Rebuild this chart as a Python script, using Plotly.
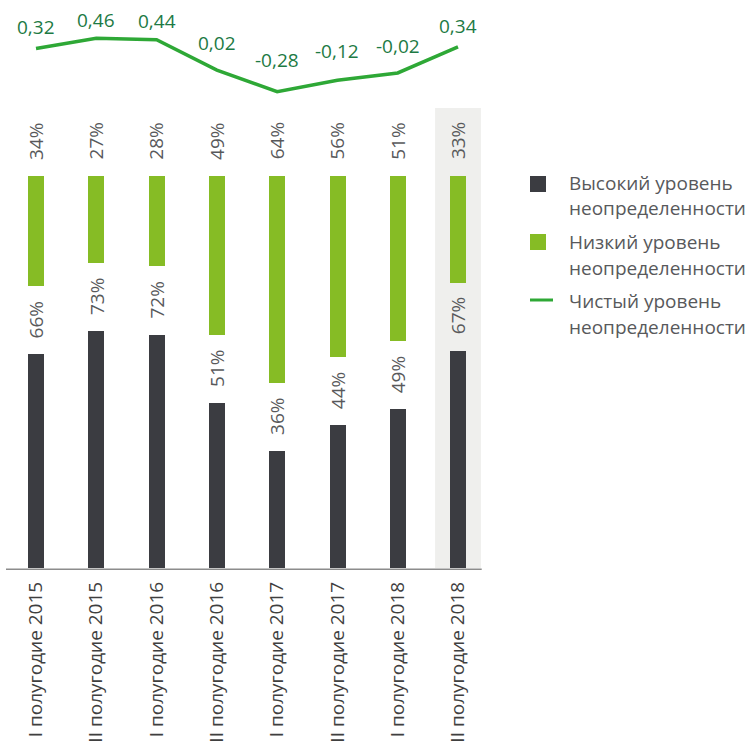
import plotly.graph_objects as go

# ---- data -------------------------------------------------------------
periods = [
    "I полугодие 2015", "II полугодие 2015",
    "I полугодие 2016", "II полугодие 2016",
    "I полугодие 2017", "II полугодие 2017",
    "I полугодие 2018", "II полугодие 2018",
]
high_share = [66, 73, 72, 51, 36, 44, 49, 67]      # высокий уровень, %
low_share = [34, 27, 28, 49, 64, 56, 51, 33]       # низкий уровень, %
net_level = [0.32, 0.46, 0.44, 0.02, -0.28, -0.12, -0.02, 0.34]

legend_lines = [
    ["Высокий уровень", "неопределенности"],
    ["Низкий уровень", "неопределенности"],
    ["Чистый уровень", "неопределенности"],
]

# ---- styling / geometry ----------------------------------------------
W, H = 749, 743
FONT = "Open Sans"
FS = 19
DARK = "#3b3c41"
LIME = "#86bc25"
LINE = "#2ea836"
NET_TEXT = "#1d7a44"
GREY_TEXT = "#58595b"
AXIS_TEXT = "#3f3f3f"
HILITE = "#efefed"

BASE_PX = 568          # zero of the bar axis (pixels from top)
PX_PER_PCT = 3.243
BAR_TOP_PX = 100
LOW_TOP = 121          # green bars hang down from this level
NET_ZERO_PX = 71.5
NET_PX_PER_UNIT = 72.2
NET_BOTTOM_PX = 100


def fx(px):
    return px / W


def fy(py):
    return 1 - py / H


bar_range = [0, (BASE_PX - BAR_TOP_PX) / PX_PER_PCT]
net_range = [-(NET_BOTTOM_PX - NET_ZERO_PX) / NET_PX_PER_UNIT, NET_ZERO_PX / NET_PX_PER_UNIT]

fig = go.Figure()

fig.add_trace(go.Bar(
    x=periods, y=high_share, width=0.265,
    marker=dict(color=DARK, line=dict(width=0)),
    name="Высокий уровень неопределенности", showlegend=False,
))
fig.add_trace(go.Bar(
    x=periods, y=low_share, base=[LOW_TOP - v for v in low_share], width=0.265,
    marker=dict(color=LIME, line=dict(width=0)),
    name="Низкий уровень неопределенности", showlegend=False,
))
fig.add_trace(go.Scatter(
    x=periods, y=net_level, yaxis="y2", mode="lines",
    line=dict(color=LINE, width=3.5),
    name="Чистый уровень неопределенности", showlegend=False,
))

annotations = []

# rotated percentage labels above both bar groups
for p, hv, lv in zip(periods, high_share, low_share):
    for yv, txt in ((hv, f"{hv}%"), (LOW_TOP, f"{lv}%")):
        annotations.append(dict(
            x=p, y=yv, xref="x", yref="y", text=txt, textangle=-90,
            showarrow=False, xanchor="center", yanchor="bottom", yshift=14,
            font=dict(family=FONT, size=FS, color=GREY_TEXT),
        ))

# net level labels (low points get a slightly larger lift)
for p, v in zip(periods, net_level):
    annotations.append(dict(
        x=p, y=v, xref="x", yref="y2", text=f"{v:.2f}".replace(".", ","),
        showarrow=False, xanchor="center", yanchor="bottom",
        yshift=12 - 18 * v,
        font=dict(family=FONT, size=FS, color=NET_TEXT),
    ))

# legend text
legend_baselines = [(190.7, 215.5), (249.5, 275), (308.5, 334)]
for lines, bases in zip(legend_lines, legend_baselines):
    for txt, b in zip(lines, bases):
        annotations.append(dict(
            x=fx(567), y=fy(b - 7.3), xref="paper", yref="paper", text=txt,
            showarrow=False, xanchor="left", yanchor="middle",
            font=dict(family=FONT, size=FS, color=GREY_TEXT),
        ))

shapes = [
    # highlighted last half-year
    dict(type="rect", xref="x", yref="y", x0=7 - 0.38, x1=7 + 0.38,
         y0=0, y1=(BASE_PX - 108) / PX_PER_PCT,
         fillcolor=HILITE, line=dict(width=0), layer="below"),
    # baseline
    dict(type="line", xref="paper", yref="paper", x0=fx(6), x1=fx(481.7),
         y0=fy(569.2), y1=fy(569.2), line=dict(color="#8c8c8c", width=1.5)),
    # legend keys
    dict(type="rect", xref="paper", yref="paper", x0=fx(530), x1=fx(546),
         y0=fy(192), y1=fy(176), fillcolor=DARK, line=dict(width=0)),
    dict(type="rect", xref="paper", yref="paper", x0=fx(530), x1=fx(546),
         y0=fy(250), y1=fy(234), fillcolor=LIME, line=dict(width=0)),
    dict(type="line", xref="paper", yref="paper", x0=fx(530), x1=fx(553),
         y0=fy(300), y1=fy(300), line=dict(color=LINE, width=3)),
]

x_left = 36 - 60.29 / 2
x_right = 458 + 60.29 / 2

fig.update_layout(
    width=W, height=H, autosize=False,
    margin=dict(l=0, r=0, t=0, b=0, autoexpand=False),
    paper_bgcolor="white", plot_bgcolor="rgba(0,0,0,0)",
    barmode="overlay", bargap=0,
    font=dict(family=FONT, size=FS, color=GREY_TEXT),
    xaxis=dict(
        domain=[fx(x_left), fx(x_right)], range=[-0.5, 7.5],
        type="category", showgrid=False, zeroline=False, showline=False,
        ticks="", tickangle=-90, ticklabelstandoff=9, automargin=False,
        tickfont=dict(family=FONT, size=19, color=AXIS_TEXT),
        fixedrange=True,
    ),
    yaxis=dict(
        domain=[fy(BASE_PX), fy(BAR_TOP_PX)], range=bar_range,
        visible=False, fixedrange=True, automargin=False,
    ),
    yaxis2=dict(
        domain=[fy(NET_BOTTOM_PX), 1], range=net_range, anchor="x",
        visible=False, fixedrange=True, automargin=False,
    ),
    annotations=annotations,
    shapes=shapes,
    showlegend=False,
)

fig.write_html("out.html")
